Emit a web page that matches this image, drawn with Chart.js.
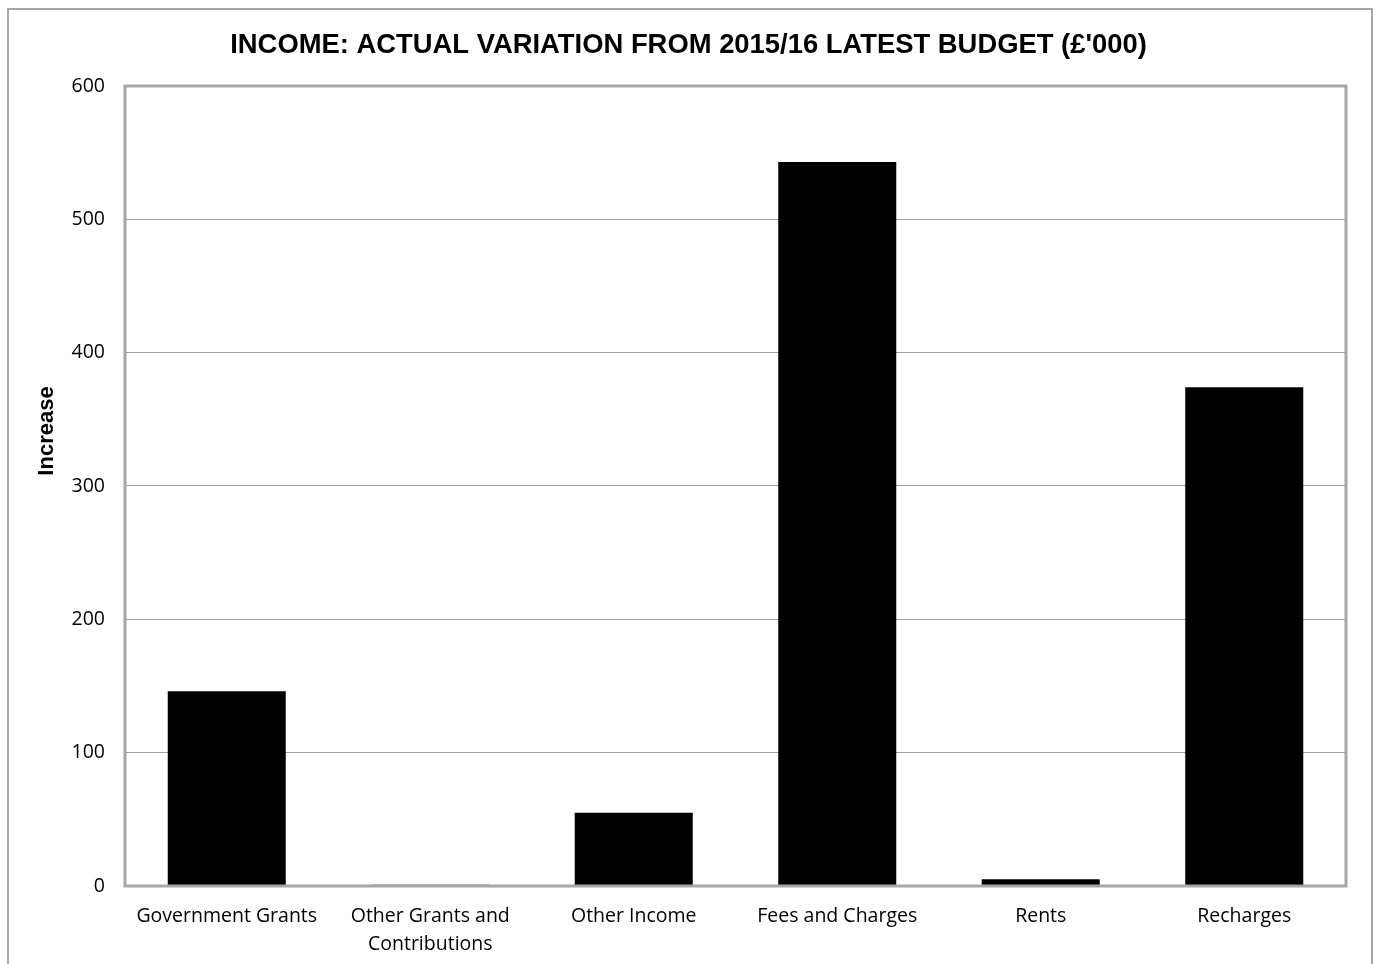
<!DOCTYPE html>
<html>
<head>
<meta charset="utf-8">
<script src="https://cdn.jsdelivr.net/npm/chart.js@4.4.0/dist/chart.umd.min.js"></script>
<style>
  html, body { margin: 0; padding: 0; background: #fff; overflow: hidden; }
  #frame { position: absolute; left: 7px; top: 8px; width: 1362px; height: 1000px; border: 2px solid #a6a6a6; }
  #wrap { position: absolute; left: 0; top: 0; width: 1377px; height: 964px; }
</style>
</head>
<body>
<div id="frame"></div>
<div id="wrap"><canvas id="income-chart"></canvas></div>
<script>
const categories = [
  "Government Grants",
  ["Other Grants and", "Contributions"],
  "Other Income",
  "Fees and Charges",
  "Rents",
  "Recharges"
];
const increase = [146, 1, 55, 543, 5, 374];
const yTicks = [0, 100, 200, 300, 400, 500, 600];
const yTitle = 'Increase';

// box round the plot area, excel style
const plotBorder = {
  id: 'plotBorder',
  afterDraw(chart) {
    const { ctx, chartArea } = chart;
    ctx.save();
    ctx.strokeStyle = '#a6a6a6';
    ctx.lineWidth = 3;
    ctx.strokeRect(chartArea.left, chartArea.top, chartArea.right - chartArea.left, chartArea.bottom - chartArea.top);
    ctx.restore();
  }
};

// excel puts the axis title a bit above the middle
const axisTitle = {
  id: 'axisTitle',
  afterDraw(chart) {
    const { ctx } = chart;
    ctx.save();
    ctx.translate(47, 431);
    ctx.rotate(-Math.PI / 2);
    ctx.font = 'bold 22px "Liberation Sans"';
    ctx.fillStyle = '#000';
    ctx.textAlign = 'center';
    ctx.textBaseline = 'middle';
    ctx.fillText(yTitle, 0, 0);
    ctx.restore();
  }
};

const ctx = document.getElementById('income-chart').getContext('2d');
new Chart(ctx, {
  type: 'bar',
  data: {
    labels: categories,
    datasets: [{
      label: yTitle,
      data: increase,
      backgroundColor: '#000000',
      borderWidth: 0,
      categoryPercentage: 1,
      barPercentage: 0.58
    }]
  },
  options: {
    responsive: true,
    maintainAspectRatio: false,
    animation: false,
    layout: { padding: { left: 31, right: 31, top: 0, bottom: 0 } },
    plugins: {
      legend: { display: false },
      tooltip: { enabled: false },
      title: {
        display: true,
        text: "INCOME: ACTUAL VARIATION FROM 2015/16 LATEST BUDGET (£'000)",
        color: '#000',
        font: { family: 'Liberation Sans', size: 27.4, weight: 'bold', lineHeight: 1.2 },
        padding: { top: 28.6, bottom: 24.5 }
      }
    },
    scales: {
      x: {
        grid: { display: false, drawTicks: false },
        border: { display: false },
        ticks: {
          color: '#000',
          padding: 16,
          maxRotation: 0,
          autoSkip: false,
          font: { family: 'Open Sans', size: 19.5, lineHeight: 1.45 }
        },
        afterFit(scale) { scale.height = 78; }
      },
      y: {
        min: 0,
        max: 600,
        afterBuildTicks(scale) { scale.ticks = yTicks.map(v => ({ value: v })); },
        grid: { color: '#a0a0a0', lineWidth: 1, drawTicks: false },
        border: { display: false },
        ticks: {
          color: '#000',
          padding: 20,
          font: { family: 'Open Sans', size: 19.5 }
        },
        afterFit(scale) { scale.width = 94; }
      }
    }
  },
  plugins: [plotBorder, axisTitle]
});
</script>
</body>
</html>
